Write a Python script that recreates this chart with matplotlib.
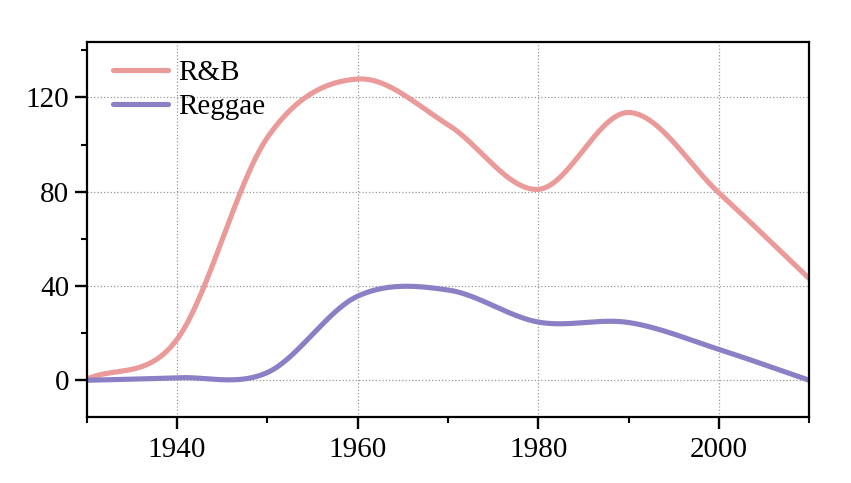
import numpy as np
import matplotlib.pyplot as plt
from matplotlib.ticker import MultipleLocator

# Дані (крок 10 років)
years = [1930, 1940, 1950, 1960, 1970, 1980, 1990, 2000, 2010]
rnb = [0.5, 17.4, 103, 127.8, 108.4, 81, 113.6, 79.5, 43.1]
reggae = [0, 1.1, 3.3, 35.7, 38.3, 24.7, 24.5, 13.1, 0]

series_names = ["R&B", "Reggae"]
series_colors = ["#e99a99", "#8c7fc5"]


# Сплайн Катмулла-Рома через точки (локальне згладжування)
def catmull_rom(x, y, n_seg=60):
    x = np.asarray(x, float)
    y = np.asarray(y, float)
    n = len(x)
    m = np.zeros(n)
    m[0] = y[1] - y[0]
    m[-1] = y[-1] - y[-2]
    m[1:-1] = (y[2:] - y[:-2]) / 2
    xs_all, ys_all = [], []
    t = np.linspace(0, 1, n_seg, endpoint=False)
    for i in range(n - 1):
        h00 = 2 * t**3 - 3 * t**2 + 1
        h10 = t**3 - 2 * t**2 + t
        h01 = -2 * t**3 + 3 * t**2
        h11 = t**3 - t**2
        xs_all.append(x[i] + t * (x[i + 1] - x[i]))
        ys_all.append(h00 * y[i] + h10 * m[i] + h01 * y[i + 1] + h11 * m[i + 1])
    xs_all.append([x[-1]])
    ys_all.append([y[-1]])
    return np.concatenate(xs_all), np.concatenate(ys_all)


plt.rcParams['font.family'] = ['Liberation Serif', 'DejaVu Serif']

fig = plt.figure(figsize=(8.51, 4.83), dpi=100)
ax = fig.add_axes([0.102, 0.137, 0.849, 0.776])

for name, vals, col in zip(series_names, [rnb, reggae], series_colors):
    xs, ys = catmull_rom(years, vals)
    ax.plot(xs, ys, color=col, lw=3.7, label=name, solid_capstyle='round')

ax.set_xlim(1930, 2010)
ax.set_ylim(-15.5, 143.5)
ax.xaxis.set_major_locator(MultipleLocator(20))
ax.xaxis.set_minor_locator(MultipleLocator(10))
ax.yaxis.set_major_locator(MultipleLocator(40))
ax.yaxis.set_minor_locator(MultipleLocator(20))

ax.tick_params(which='major', length=8.6, width=1.7, labelsize=21, direction='out')
ax.tick_params(which='minor', length=4.5, width=1.5, direction='out')
ax.tick_params(axis='x', pad=6)
ax.tick_params(axis='y', pad=4)
for s in ax.spines.values():
    s.set_linewidth(1.6)

ax.grid(True, which='major', linestyle=':', color='#999999', lw=0.9)

leg = ax.legend(loc='upper left', frameon=False, fontsize=21, handlelength=1.9,
                handletextpad=0.35, labelspacing=0.27, borderaxespad=0.0,
                borderpad=0.4, bbox_to_anchor=(0.02, 0.985))

fig.savefig('out.png', dpi=100)
